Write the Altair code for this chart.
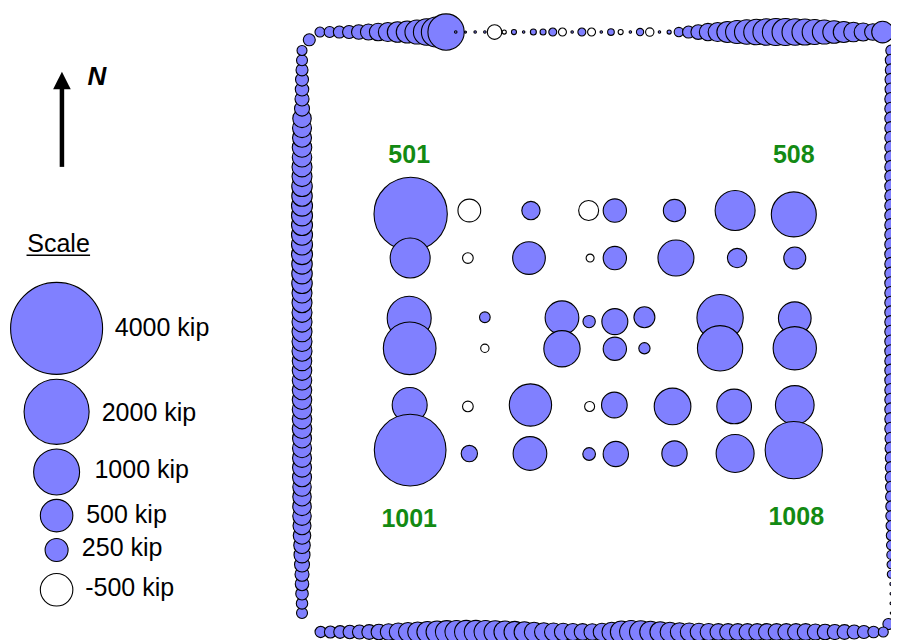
import altair as alt
import pandas as pd

# ---------------- data (loads in kip) ----------------
# perimeter piles, 2 ft spacing
top_loads = [47, 57, 68, 80, 99, 121, 145, 171, 199, 229, 272, 332, 425, 623,
             3, 2, 3, 3, -100, -8, 12, 3, 17, 17, 30, -30, 3, 30, -30, 3,
             21, -12, 3, 25, -33, 3, 8, 41, 68, 102, 141, 171, 208, 250, 284,
             307, 332, 345, 345, 332, 319, 295, 272, 239, 208, 180, 153, 129, 223]
left_loads = [47, 57, 68, 80, 86, 93, 106, 162, 171, 171, 180, 180, 189, 189, 199,
              199, 208, 208, 208, 208, 208, 208, 199, 199, 199, 189, 189, 189, 189, 189,
              189, 189, 180, 180, 180, 180, 180, 180, 180, 180, 171, 171, 171, 171, 171,
              162, 162, 162, 162, 153, 145, 129, 121, 106, 93, 86, 74, 62, 57]
right_loads = [57, 68, 68, 74, 74, 80, 80, 80, 80, 80, 80, 80, 80, 80, 80,
               80, 80, 80, 80, 80, 80, 80, 80, 80, 80, 80, 80, 80, 80, 80,
               80, 80, 80, 80, 80, 80, 80, 80, 80, 80, 74, 74, 68, 68, 68,
               62, 62, 57, 57, 52, 47, 43, 38, 34, 30, 4, 3, 3, 2]
bottom_loads = [60, 68, 76, 85, 93, 102, 114, 129, 153, 171, 189, 208, 229, 244, 250,
                257, 257, 250, 239, 229, 214, 199, 180, 162, 153, 145, 137, 132, 129, 145,
                180, 229, 250, 239, 218, 199, 180, 162, 153, 145, 137, 132, 132, 132, 132,
                132, 132, 132, 132, 132, 132, 121, 114, 106, 102, 93, 80, 62, 47]
corner_loads = [68, 57]  # NW, SE

# interior piles: id, plan X (ft), plan Y (ft), load (kip)
pile_id = [501, 502, 503, 504, 505, 506, 507, 508,
           601, 602, 603, 604, 605, 606, 607, 608,
           701, 702, 703, 704, 705, 706, 707, 708,
           801, 802, 803, 804, 805, 806, 807,
           901, 902, 903, 904, 905, 906, 907, 908,
           1001, 1002, 1003, 1004, 1005, 1006, 1007, 1008]
pile_x = [22.4, 34.5, 47.2, 59.1, 64.5, 76.8, 89.3, 101.4,
          22.3, 34.2, 46.8, 59.4, 64.5, 77.1, 89.7, 101.6,
          22.1, 37.7, 53.6, 59.2, 64.5, 70.6, 86.2, 101.6,
          22.2, 37.7, 53.6, 64.5, 70.6, 86.2, 101.6,
          22.2, 34.2, 47.1, 59.3, 64.4, 76.4, 89.1, 101.6,
          22.3, 34.5, 47.0, 59.2, 64.7, 76.8, 89.3, 101.4]
pile_y = [86.2, 86.9, 86.9, 86.9, 86.9, 86.9, 86.9, 86.1,
          77.1, 77.1, 77.1, 77.1, 77.1, 77.1, 77.1, 77.1,
          64.7, 64.9, 64.8, 64.0, 64.0, 64.9, 64.8, 64.7,
          58.5, 58.5, 58.4, 58.4, 58.5, 58.5, 58.5,
          46.8, 46.5, 46.8, 46.5, 46.8, 46.5, 46.5, 46.8,
          37.5, 36.8, 36.8, 36.7, 36.7, 36.8, 36.8, 37.5]
pile_load = [2540, -245, 158, -189, 257, 235, 756, 957,
             756, -54, 505, -30, 257, 612, 176, 229,
             915, 54, 537, 72, 319, 208, 1013, 505,
             1312, -33, 623, 257, 60, 970, 886,
             579, -54, 846, -47, 312, 636, 569, 708,
             2429, 126, 537, 76, 303, 303, 682, 1552]

label_ids = ["501", "508", "1001", "1008"]
label_x = [22.1, 101.4, 22.1, 101.9]
label_y = [98.4, 98.4, 23.3, 23.7]

legend_values = [4000, 2000, 1000, 500, 250, -500]
legend_labels = ["4000 kip", "2000 kip", "1000 kip", "500 kip", "250 kip", "-500 kip"]

# ---------------- plan geometry ----------------
SP = 2.0          # perimeter pile spacing (ft)
WEST, EAST = 0.0, 121.5
SOUTH, NORTH = 0.0, 123.7

rows = []
seq = 0
n = len(left_loads)
for i in range(n):  # west wall, south -> north
    rows.append(dict(X=WEST, Y=3.9 + SP * i, load=left_loads[n - 1 - i], seq=seq)); seq += 1
rows.append(dict(X=1.5, Y=122.1, load=corner_loads[0], seq=seq)); seq += 1
for i, v in enumerate(top_loads):  # north wall, west -> east
    rows.append(dict(X=3.7 + SP * i, Y=NORTH, load=v, seq=seq)); seq += 1
for i, v in enumerate(right_loads):  # east wall, north -> south
    rows.append(dict(X=EAST, Y=119.9 - SP * i, load=v, seq=seq)); seq += 1
rows.append(dict(X=120.9, Y=1.65, load=corner_loads[1], seq=seq)); seq += 1
for i, v in enumerate(bottom_loads):  # south wall, west -> east
    rows.append(dict(X=3.85 + SP * i, Y=SOUTH, load=v, seq=seq)); seq += 1
for pid, x, y, v in zip(pile_id, pile_x, pile_y, pile_load):
    rows.append(dict(X=x, Y=y, load=v, seq=seq)); seq += 1
piles = pd.DataFrame(rows)

legend_df = pd.DataFrame({
    "value": legend_values,
    "label": legend_labels,
    "X": [-50.6] * 6,
    "Y": [62.6, 45.4, 33.0, 24.0, 16.9, 8.7],
    "LX": [-38.6, -41.3, -42.8, -44.5, -45.4, -44.7],
    "LY": [62.6, 45.1, 33.4, 24.1, 17.3, 9.0],
})
labels_df = pd.DataFrame({"text": label_ids, "X": label_x, "Y": label_y})

# ---------------- encodings ----------------
# 4.85 px per ft; plot area covers page x 8..891, y 8..640
xs = alt.Scale(domain=[-60.62, 121.44], nice=False, zero=False)
ys = alt.Scale(domain=[-1.65, 128.66], nice=False, zero=False)
sz = alt.Scale(type="linear", domain=[0, 4000], range=[0, 8464], zero=True)
FILL = "#8080ff"
FONT = "Liberation Sans"


def X(f="X"):
    return alt.X(f"{f}:Q", scale=xs, axis=None)


def Y(f="Y"):
    return alt.Y(f"{f}:Q", scale=ys, axis=None)


pile_layer = alt.Chart(piles).transform_calculate(
    mag="abs(datum.load)"
).mark_point(filled=True, shape="circle", stroke="black", strokeWidth=1.1,
             opacity=1, clip=True).encode(
    x=X(), y=Y(),
    size=alt.Size("mag:Q", scale=sz, legend=None),
    fill=alt.condition("datum.load < 0", alt.value("white"), alt.value(FILL)),
    order=alt.Order("seq:Q"),
)

legend_circles = alt.Chart(legend_df).transform_calculate(
    mag="abs(datum.value)"
).mark_point(filled=True, shape="circle", stroke="black", strokeWidth=1.1,
             opacity=1).encode(
    x=X(), y=Y(),
    size=alt.Size("mag:Q", scale=sz, legend=None),
    fill=alt.condition("datum.value < 0", alt.value("white"), alt.value(FILL)),
)

legend_text = alt.Chart(legend_df).mark_text(
    align="left", baseline="middle", font=FONT, fontSize=25, color="black"
).encode(x=X("LX"), y=Y("LY"), text="label:N")

scale_title = alt.Chart(pd.DataFrame({"t": ["Scale"], "X": [-50.2], "Y": [80.1]})).mark_text(
    align="center", baseline="middle", font=FONT, fontSize=25, color="black"
).encode(x=X(), y=Y(), text="t:N")

underline = alt.Chart(pd.DataFrame({"X": [-56.8], "X2": [-43.7], "Y": [77.7]})).mark_rule(
    color="black", strokeWidth=1.5
).encode(x=X(), x2="X2:Q", y=Y())

shaft = alt.Chart(pd.DataFrame({"X": [-49.5], "Y": [95.9], "Y2": [112.2]})).mark_rule(
    color="black", strokeWidth=4.5
).encode(x=X(), y=Y(), y2="Y2:Q")

head = alt.Chart(pd.DataFrame({"X": [-49.5], "Y": [113.7]})).mark_point(
    shape="M0,-1L-1,1L1,1Z", filled=True, fill="black", opacity=1, size=310, strokeWidth=0
).encode(x=X(), y=Y())

north = alt.Chart(pd.DataFrame({"t": ["N"], "X": [-42.3], "Y": [114.5]})).mark_text(
    align="center", baseline="middle", font=FONT, fontSize=26, fontWeight="bold",
    fontStyle="italic", color="black"
).encode(x=X(), y=Y(), text="t:N")

pile_labels = alt.Chart(labels_df).mark_text(
    align="center", baseline="middle", font=FONT, fontSize=25, fontWeight="bold",
    color="#138a13"
).encode(x=X(), y=Y(), text="text:N")

chart = alt.layer(
    pile_layer, legend_circles, legend_text, scale_title, underline, shaft, head,
    north, pile_labels
).properties(
    width=883, height=632, padding=0,
    autosize=alt.AutoSizeParams(type="none"),
).configure_view(stroke=None)

chart.save("out.html", embed_options={"renderer": "svg", "actions": False})
